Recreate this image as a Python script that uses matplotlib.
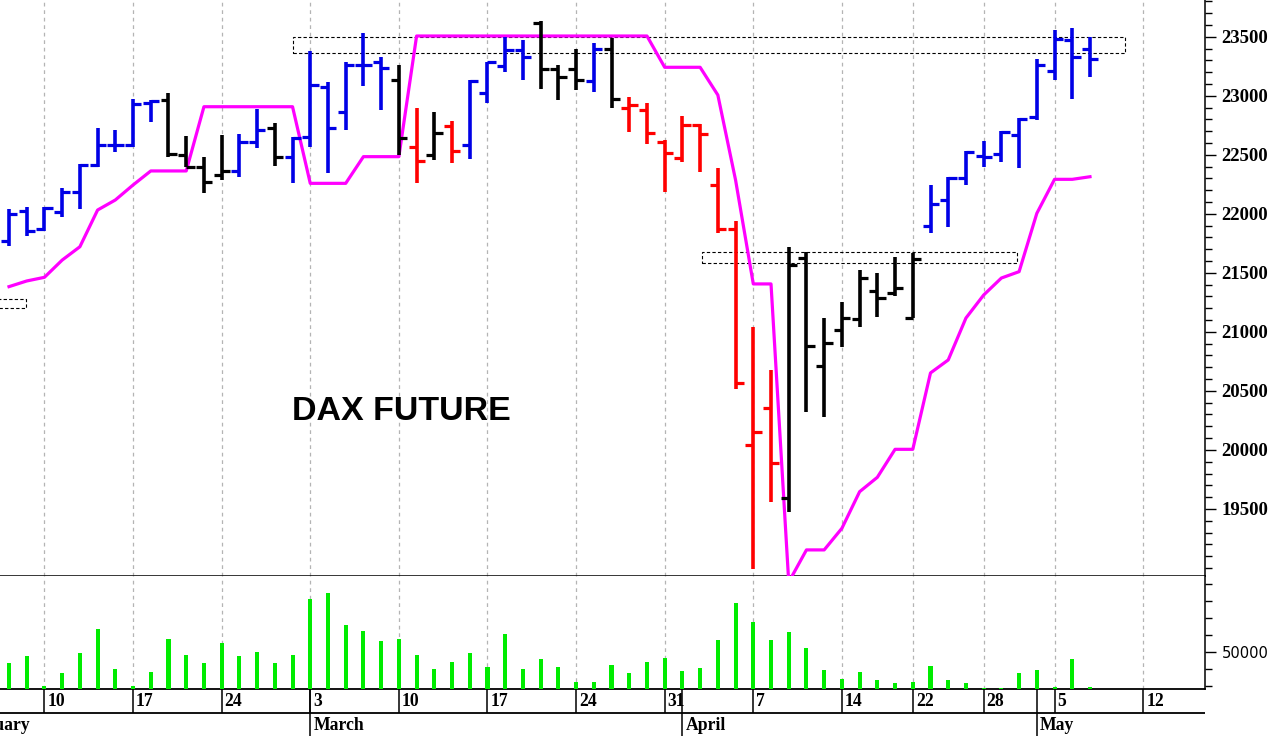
import numpy as np
import pandas as pd
import matplotlib.pyplot as plt
from matplotlib.patches import Rectangle
from matplotlib.ticker import MultipleLocator

# trading calendar (Xetra holidays removed), bar 0 = 2025-02-06
holidays = ["2025-04-18", "2025-04-21", "2025-05-01"]
cal = pd.bdate_range("2025-02-03", "2025-05-16")
cal = cal[~cal.isin(pd.to_datetime(holidays))]
first = list(cal).index(pd.Timestamp("2025-02-06"))
cal_x = np.arange(len(cal)) - first

opens = [21770, 22020, 21870, 22015, 22185, 22415, 22580, 22580, 22940, 22960,
         22500, 22400, 22330, 22360, 22605, 22730, 22485, 22650, 23070, 22865,
         23260, 23290, 23135, 22570, 22500, 22745, 22580, 23025, 23250, 23385,
         23615, 23230, 23230, 23125, 23400, 22900, 22880, 22610, 22470, 22750,
         22245, 21875, 20040, 20355, 19595, 21625, 20715, 21015, 21105, 21350,
         21330, 21120, 21895, 22115, 22300, 22490, 22505, 22665, 22820, 23210,
         23470, 23400]
highs = [22040, 22060, 22060, 22220, 22425, 22730, 22710, 22970, 22965, 23020,
         22655, 22485, 22665, 22675, 22890, 22765, 22650, 23375, 23120, 23290,
         23530, 23330, 23260, 22895, 22865, 22790, 23135, 23290, 23495, 23470,
         23630, 23260, 23400, 23450, 23485, 22990, 22935, 22625, 22825, 22760,
         22385, 21935, 21045, 20675, 21720, 21680, 21115, 21255, 21520, 21500,
         21630, 21665, 22245, 22315, 22535, 22615, 22700, 22810, 23315, 23560,
         23575, 23500]
lows = [21730, 21815, 21855, 21975, 22040, 22400, 22525, 22570, 22780, 22485,
        22400, 22180, 22285, 22315, 22555, 22405, 22260, 22570, 22345, 22710,
        23080, 22880, 22500, 22265, 22455, 22430, 22460, 22935, 23205, 23135,
        23055, 22965, 23050, 23035, 22900, 22695, 22595, 22185, 22440, 22355,
        21835, 20515, 18990, 19560, 19475, 20325, 20275, 20875, 21045, 21130,
        21300, 21115, 21840, 21885, 22245, 22400, 22440, 22385, 22795, 23135,
        22970, 23160]
closes = [22000, 21855, 22050, 22185, 22415, 22585, 22585, 22930, 22955, 22505,
          22400, 22270, 22360, 22605, 22710, 22485, 22645, 23090, 22730, 23260,
          23260, 23235, 22640, 22450, 22685, 22535, 23125, 23285, 23385, 23325,
          23230, 23155, 23135, 23400, 22975, 22920, 22685, 22515, 22750, 22680,
          21875, 20565, 20155, 19885, 21565, 20880, 20905, 21120, 21460, 21290,
          21375, 21620, 22080, 22305, 22525, 22485, 22695, 22805, 23260, 23480,
          23325, 23310]
# B = blue, K = black, R = red
bar_state = "BBBBBBBBBKKKKBBKBBBBBBKRKRBBBBKKKBKRRRRRRRRRKKKKKKKKBBBBBBBBBB"

stop = [21383, 21431, 21462, 21608, 21721, 22032, 22117, 22244, 22363, 22363,
        22363, 22907, 22907, 22907, 22907, 22907, 22907, 22258, 22258, 22258,
        22484, 22484, 22484, 23506, 23506, 23506, 23506, 23506, 23506, 23506,
        23506, 23506, 23506, 23506, 23506, 23506, 23506, 23241, 23241, 23241,
        23006, 22286, 21406, 21406, 18880, 19153, 19153, 19336, 19646, 19768,
        20005, 20005, 20652, 20762, 21117, 21312, 21456, 21510, 22004, 22292,
        22292, 22314]

volume = [43200, 47500, 29900, 37300, 49100, 63100, 39900, 29900, 37900, 57300,
          48100, 43200, 54900, 47300, 49800, 43200, 48100, 80700, 84300, 65700,
          62300, 56500, 57300, 48200, 39900, 44100, 49100, 40900, 60200, 39700,
          45500, 40900, 32100, 32400, 42200, 37300, 44100, 46500, 38900, 40600,
          56900, 78400, 67200, 56900, 61700, 52300, 39300, 34000, 37900, 33400,
          31500, 32100, 41600, 33400, 31500, 28900, 28900, 37300, 39100, 29100,
          45500, 29100]

# price zones (first bar, last bar, low, high)
zones = [(-3.0, 0.94, 21200, 21276),
         (16.0, 62.95, 23360, 23500),
         (39.1, 56.9, 21585, 21680)]

price_ticks = [19500, 20000, 20500, 21000, 21500, 22000, 22500, 23000, 23500]
month_names = {2: "February", 3: "March", 4: "April", 5: "May"}

x = np.arange(len(opens))
col_map = {"B": "#0000e6", "K": "#000000", "R": "#ff0000"}
bar_cols = [col_map[c] for c in bar_state]

W, H = 1276, 736
xl = (-0.508, 67.49)

# week / month starts on the calendar
week_x, week_lab, month_x, month_lab = [], [], [], []
for i, d in enumerate(cal):
    if i == 0 or d.weekday() < cal[i - 1].weekday():
        if xl[0] < cal_x[i] < xl[1]:
            week_x.append(cal_x[i])
            week_lab.append(str(d.day))
    if i == 0 or d.month != cal[i - 1].month:
        month_x.append(cal_x[i])
        month_lab.append(month_names[d.month])

fig = plt.figure(figsize=(W / 100, H / 100), dpi=100)
ax1 = fig.add_axes([0, 160 / H, 1205 / W, 576 / H])
ax2 = fig.add_axes([0, 47 / H, 1205 / W, 113 / H])
ax3 = fig.add_axes([0, 0, 1205 / W, 47 / H])

grid_kw = dict(color="#b4b4b4", lw=0.9, ls=(0, (3, 3)))

# price panel
for z in zones:
    ax1.add_patch(Rectangle((z[0], z[2]), z[1] - z[0], z[3] - z[2], fill=False,
                            ec="black", lw=0.8, ls=(0, (3, 2)), zorder=2))
ax1.plot(x, stop, color="#ff00ff", lw=2.3, zorder=3)
ax1.vlines(x, lows, highs, colors=bar_cols, lw=2.6, zorder=4)
ax1.hlines(opens, x - 0.45, x, colors=bar_cols, lw=2.3, zorder=4)
ax1.hlines(closes, x, x + 0.47, colors=bar_cols, lw=2.3, zorder=4)
ax1.text(15.97, 20254, "DAX FUTURE", fontsize=24.5, fontweight="bold",
         family="Liberation Sans", va="baseline", ha="left")

ax1.set_xticks(week_x)
ax1.set_xlim(xl)
ax1.set_ylim(18932, 23811)
ax1.grid(axis="x", **grid_kw)
ax1.tick_params(axis="x", length=0, labelbottom=False)
ax1.yaxis.tick_right()
ax1.set_yticks(price_ticks)
ax1.set_yticklabels([str(t) for t in price_ticks], family="Liberation Serif",
                    fontweight="bold", fontsize=13.5)
ax1.yaxis.set_minor_locator(MultipleLocator(100))
ax1.tick_params(axis="y", which="major", length=7.7, width=1, pad=4.3)
ax1.tick_params(axis="y", which="minor", length=4.8, width=1)
for s in ["left", "top"]:
    ax1.spines[s].set_visible(False)
ax1.spines["right"].set_linewidth(1.1)
ax1.spines["bottom"].set_linewidth(1.1)

# volume panel
ax2.bar(x, volume, width=0.23, color="#00ec00", zorder=3)
ax2.set_xticks(week_x)
ax2.set_xlim(xl)
ax2.set_ylim(28123, 94399)
ax2.grid(axis="x", **grid_kw)
ax2.tick_params(axis="x", length=0, labelbottom=False)
ax2.yaxis.tick_right()
ax2.set_yticks([50000])
ax2.set_yticklabels(["50000"], fontsize=10.6)
ax2.yaxis.set_minor_locator(MultipleLocator(10000))
ax2.tick_params(axis="y", which="major", length=7.7, width=1, pad=4.3)
ax2.tick_params(axis="y", which="minor", length=4.8, width=1)
for s in ["left", "top"]:
    ax2.spines[s].set_visible(False)
ax2.spines["right"].set_linewidth(1.1)
ax2.spines["bottom"].set_linewidth(1.3)

# date rows
ax3.set_xlim(xl)
ax3.set_ylim(0, 47)
ax3.axis("off")
ax3.axhline(23.3, color="black", lw=1.3)
ax3.vlines(week_x, 23.3, 47, color="black", lw=1.1)
ax3.vlines(month_x, 0, 47, color="black", lw=1.1)
for wx, wl in zip(week_x, week_lab):
    ax3.text(wx + 0.17, 35, wl, family="Liberation Serif", fontweight="bold",
             fontsize=12.7, va="center", ha="left")
for mx, ml in zip(month_x, month_lab):
    ax3.text(mx + 0.17, 11, ml, family="Liberation Serif", fontweight="bold",
             fontsize=12.7, va="center", ha="left")

fig.savefig("out.png", dpi=100)
